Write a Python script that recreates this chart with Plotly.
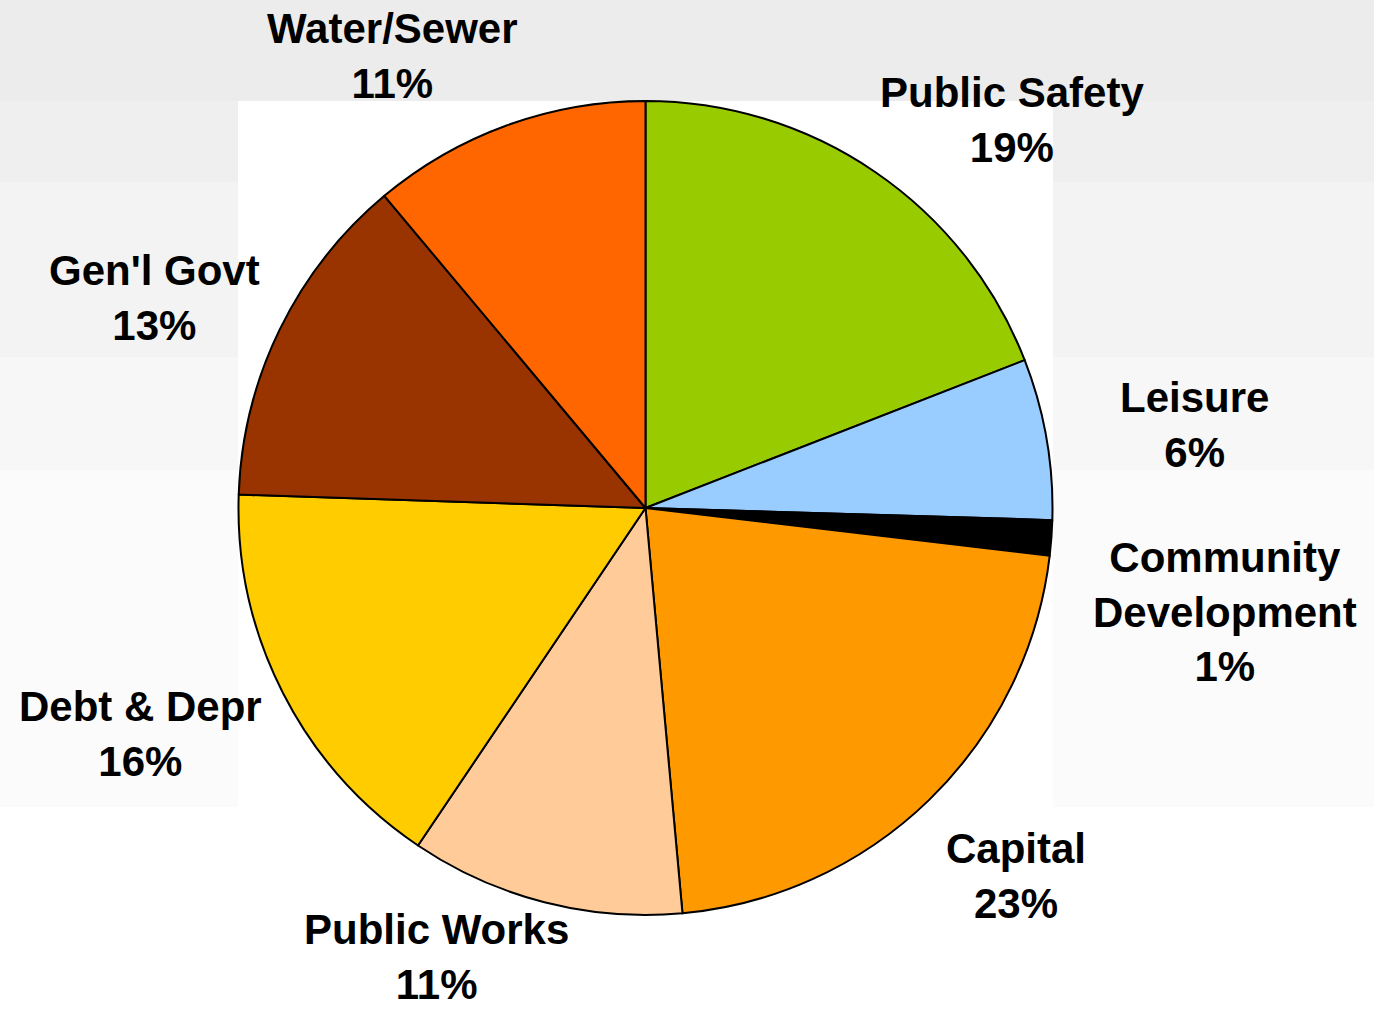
import plotly.graph_objects as go

# ---- data ----
categories = ["Public Safety", "Leisure", "Community<br>Development", "Capital",
              "Public Works", "Debt & Depr", "Gen'l Govt", "Water/Sewer"]
values = [19.1, 6.4, 1.4, 21.7, 10.9, 16.1, 13.4, 11.1]
pct_labels = ["19%", "6%", "1%", "23%", "11%", "16%", "13%", "11%"]
colors = ["#99CC00", "#99CCFF", "#000000", "#FF9900",
          "#FFCC99", "#FFCC00", "#993300", "#FF6600"]

W, H = 1374, 1011

def px(x):
    return x / W

def py(y):
    return 1 - y / H

fig = go.Figure(go.Pie(
    labels=categories,
    values=values,
    sort=False,
    direction="clockwise",
    rotation=0,
    marker=dict(colors=colors, line=dict(color="#000000", width=2)),
    textinfo="none",
    hoverinfo="label+percent",
    showlegend=False,
    domain=dict(x=[px(238), px(1053)], y=[py(915), py(101)]),
))

# background bands (slide gradient) and white plot area
bands = [(0, 101, "#ececec"), (101, 182, "#efefef"), (182, 357, "#f3f3f3"),
         (357, 470, "#f7f7f7"), (470, 807, "#fbfbfb")]
shapes = []
for y0, y1, c in bands:
    shapes.append(dict(type="rect", xref="paper", yref="paper", x0=0, x1=1,
                       y0=py(y1), y1=py(y0), fillcolor=c, line=dict(width=0),
                       layer="below"))
shapes.append(dict(type="rect", xref="paper", yref="paper", x0=px(238), x1=px(1053),
                   y0=0, y1=py(101), fillcolor="#ffffff", line=dict(width=0),
                   layer="below"))

# label positions (block centers, pixels)
label_pos = [(1012, 120), (1194, 425), (1225, 612), (1016, 876),
             (436, 957), (140, 734), (154, 298), (392, 56)]
annotations = []
for name, pct, (x, y) in zip(categories, pct_labels, label_pos):
    annotations.append(dict(
        x=px(x), y=py(y), xref="paper", yref="paper",
        text=f"{name}<br>{pct}", showarrow=False,
        xanchor="center", yanchor="middle", align="center",
        font=dict(family="Liberation Sans, Arial, sans-serif", size=42,
                  color="#000000", weight="bold"),
    ))

fig.update_layout(
    width=W, height=H,
    margin=dict(l=0, r=0, t=0, b=0),
    paper_bgcolor="#ffffff",
    plot_bgcolor="#ffffff",
    shapes=shapes,
    annotations=annotations,
)

fig.write_html("out.html", config={"displayModeBar": False},
               post_script="document.body.style.margin='0';")
